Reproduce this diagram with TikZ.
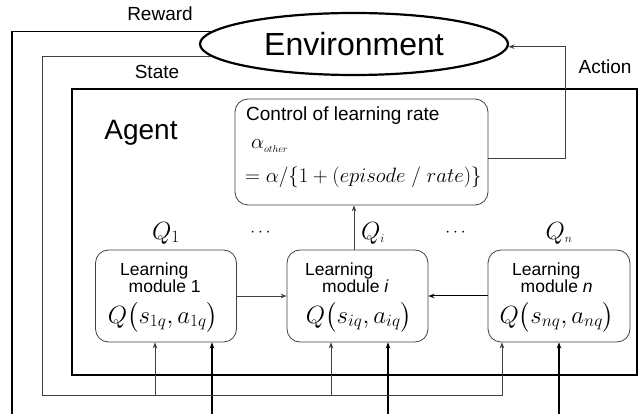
\documentclass[tikz,border=0pt]{standalone}
\usepackage{amsmath}
\usepackage{fontspec}
\setmainfont{Liberation Sans}
\usetikzlibrary{arrows.meta,shapes.geometric}

\begin{document}
\begin{tikzpicture}[x=1pt,y=-1pt,
  thinwire/.style={draw=black!75,line width=0.8pt},
  boldwire/.style={draw=black,line width=1.3pt},
  tipped/.style={-{Stealth[length=6pt,width=4.5pt]}},
  framebox/.style={draw=black,line width=2.4pt},
  roundbox/.style={draw=black!75,line width=0.8pt,rounded corners=13pt},
  lbl/.style={font=\fontsize{19}{21}\selectfont,inner sep=0pt},
  modtxt/.style={font=\fontsize{17.5}{17}\selectfont,inner sep=0pt,align=left,anchor=north west},
  qform/.style={font=\fontsize{25}{28}\selectfont,inner sep=0pt},
  qlbl/.style={font=\fontsize{23}{25}\selectfont,inner sep=0pt}]
\useasboundingbox (0,0) rectangle (641,414);

% environment
\node[ellipse,framebox,line width=2.2pt,minimum width=308pt,minimum height=62pt,
      font=\fontsize{32}{34}\selectfont] (env) at (354,44) {Environment};

% agent frame
\node[framebox,minimum width=565pt,minimum height=286pt,inner sep=0pt] (agent) at (354.5,232) {};
\node[inner sep=0pt,font=\fontsize{28}{30}\selectfont] (agentlbl) at (141,133) {Agent};

% learning-rate controller
\node[roundbox,minimum width=253pt,minimum height=106pt,inner sep=0pt] (ctrl) at (361.5,152) {};
\node[lbl,anchor=west] (ctitle) at (246,116) {Control of learning rate};
\node[inner sep=0pt,anchor=west,font=\fontsize{20}{22}\selectfont] (calpha) at (251,146) {$\alpha_{\scriptscriptstyle other}$};
\node[inner sep=0pt,anchor=west,font=\fontsize{21}{23}\selectfont] (cform) at (245,177) {$=\alpha/\{1+(episode\;/\;rate)\}$};

% learning modules
\node[roundbox,minimum width=141pt,minimum height=92pt,inner sep=0pt] (m1) at (166,296) {};
\node[roundbox,minimum width=141pt,minimum height=92pt,inner sep=0pt] (mi) at (357.5,296) {};
\node[roundbox,minimum width=142pt,minimum height=92pt,inner sep=0pt] (mn) at (559,296) {};

\node[modtxt] (m1t) at (120,263) {Learning\\\hspace*{8.5pt}module 1};
\node[qform] (m1q) at (163,317) {$Q\bigl(s_{1q},a_{1q}\bigr)$};

\node[modtxt] (mit) at (305,263) {Learning\\\hspace*{17pt}module \textit{i}};
\node[qform] (miq) at (359,317) {$Q\bigl(s_{iq},a_{iq}\bigr)$};

\node[modtxt] (mnt) at (512,263) {Learning\\\hspace*{8.5pt}module \textit{n}};
\node[qform] (mnq) at (557,317) {$Q\bigl(s_{nq},a_{nq}\bigr)$};

% Q labels above the modules
\node[qlbl] (q1) at (166,233) {$Q_1$};
\node[inner sep=0pt,font=\fontsize{16}{18}\selectfont] (d1) at (262,233) {$\cdots$};
\node[qlbl] (qi) at (373,233) {$Q_{\scriptscriptstyle i}$};
\node[inner sep=0pt,font=\fontsize{16}{18}\selectfont] (d2) at (457,233) {$\cdots$};
\node[qlbl] (qn) at (559,233) {$Q_{\scriptscriptstyle n}$};

% outer labels
\node[lbl] (rwd) at (160,14) {Reward};
\node[lbl] (st) at (157,72) {State};
\node[lbl] (act) at (605,67) {Action};

% free ends of the wires
\coordinate (rwBL) at (12,414);
\coordinate (stBL) at (42,395);
\coordinate (rw1) at (212,414);
\coordinate (rwi) at (388,414);
\coordinate (rwn) at (559,414);
\coordinate (actOut) at ([yshift=-6pt]ctrl.east);

% reward wire
\draw[boldwire] (env.175) -| (rwBL);
\draw[boldwire,tipped] (rw1) -- (rw1 |- m1.south);
\draw[boldwire,tipped] (rwi) -- (rwi |- mi.south);
\draw[boldwire,tipped] (rwn) -- (rwn |- mn.south);

% state wire
\draw[thinwire,tipped] (env.185) -| (stBL) -| (502,0 |- mn.south);
\draw[thinwire,tipped] (155,0 |- stBL) -- (155,0 |- m1.south);
\draw[thinwire,tipped] (331,0 |- stBL) -- (331,0 |- mi.south);

% action wire
\draw[thinwire,tipped] (actOut) -- (565,0 |- actOut) |- (env.-1);

% module links
\draw[thinwire,tipped] (m1.east) -- (mi.west);
\draw[boldwire,line width=1pt,tipped] (mn.west) -- (mi.east);
\draw[thinwire,tipped] (354,0 |- mi.north) -- (354,0 |- ctrl.south);
\end{tikzpicture}
\end{document}
